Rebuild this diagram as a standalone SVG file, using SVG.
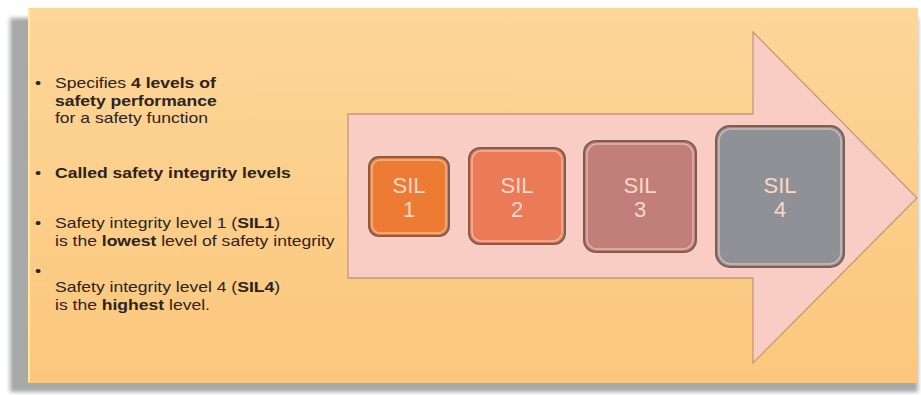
<svg xmlns="http://www.w3.org/2000/svg" width="921" height="395" viewBox="0 0 921 395">
  <defs>
    <linearGradient id="bg" x1="0" y1="0" x2="0" y2="1">
      <stop offset="0" stop-color="#FDD699"/>
      <stop offset="1" stop-color="#FBC77C"/>
    </linearGradient>
    <filter id="blur" x="-5%" y="-5%" width="110%" height="110%">
      <feGaussianBlur stdDeviation="2"/>
    </filter>
    <style>
      .txt { font-family: "Liberation Sans", Arial, sans-serif; font-size: 14px; fill: #2B2320; }
      .b { font-weight: bold; }
      .box { stroke: #7E5E52; stroke-width: 2; }
      .hl { fill: none; stroke: #FBE3D6; stroke-opacity: 0.55; stroke-width: 1.5; }
      .sil { font-family: "Liberation Sans", Arial, sans-serif; font-size: 22px; fill: #FAD8C7; text-anchor: middle; }
    </style>
  </defs>

  <g id="background">
    <rect x="10" y="18" width="908" height="374" fill="#A6A9A8" filter="url(#blur)"/>
    <rect x="28" y="8" width="890" height="375" fill="url(#bg)"/>
    <line x1="29" y1="9" x2="29" y2="382" stroke="#FFE7A6" stroke-width="2"/>
  </g>

  <g id="arrow">
    <polygon points="348,114 753,114 753,32 917,198 753,363 753,278 348,278" fill="#F9CDC3" stroke="#C4977F" stroke-width="1.3"/>
  </g>

  <g id="bullets" transform="translate(55,0) scale(1.253,1)">
    <text class="txt" x="-16" y="88">•</text>
    <text class="txt" x="0" y="88">Specifies <tspan class="b">4 levels of</tspan></text>
    <text class="txt b" x="0" y="106">safety performance</text>
    <text class="txt" x="0" y="123">for a safety function</text>

    <text class="txt" x="-16" y="178">•</text>
    <text class="txt b" x="0" y="178">Called safety integrity levels</text>

    <text class="txt" x="-16" y="228">•</text>
    <text class="txt" x="0" y="228">Safety integrity level 1 (<tspan class="b">SIL1</tspan>)</text>
    <text class="txt" x="0" y="246">is the <tspan class="b">lowest</tspan> level of safety integrity</text>

    <text class="txt" x="-16" y="276">•</text>
    <text class="txt" x="0" y="292">Safety integrity level 4 (<tspan class="b">SIL4</tspan>)</text>
    <text class="txt" x="0" y="310">is the <tspan class="b">highest</tspan> level.</text>
  </g>

  <g id="sil1">
    <rect class="box" x="369" y="157" width="80" height="79" rx="10" fill="#EE7B33"/>
    <rect class="hl" x="372" y="160" width="74" height="73" rx="8"/>
    <text class="sil" x="409" y="193">SIL</text>
    <text class="sil" x="409" y="217">1</text>
  </g>

  <g id="sil2">
    <rect class="box" x="469" y="148" width="96" height="96" rx="11" fill="#EA7A58"/>
    <rect class="hl" x="472" y="151" width="90" height="90" rx="9"/>
    <text class="sil" x="517" y="193">SIL</text>
    <text class="sil" x="517" y="217">2</text>
  </g>

  <g id="sil3">
    <rect class="box" x="584" y="141" width="112" height="111" rx="12" fill="#C27E78"/>
    <rect class="hl" x="587" y="144" width="106" height="105" rx="10"/>
    <text class="sil" x="640" y="193">SIL</text>
    <text class="sil" x="640" y="217">3</text>
  </g>

  <g id="sil4">
    <rect class="box" x="716" y="126" width="128" height="141" rx="14" fill="#8F9196"/>
    <rect class="hl" x="719" y="129" width="122" height="135" rx="12"/>
    <text class="sil" x="780" y="193">SIL</text>
    <text class="sil" x="780" y="217">4</text>
  </g>

  <g id="connectors"></g>
</svg>
